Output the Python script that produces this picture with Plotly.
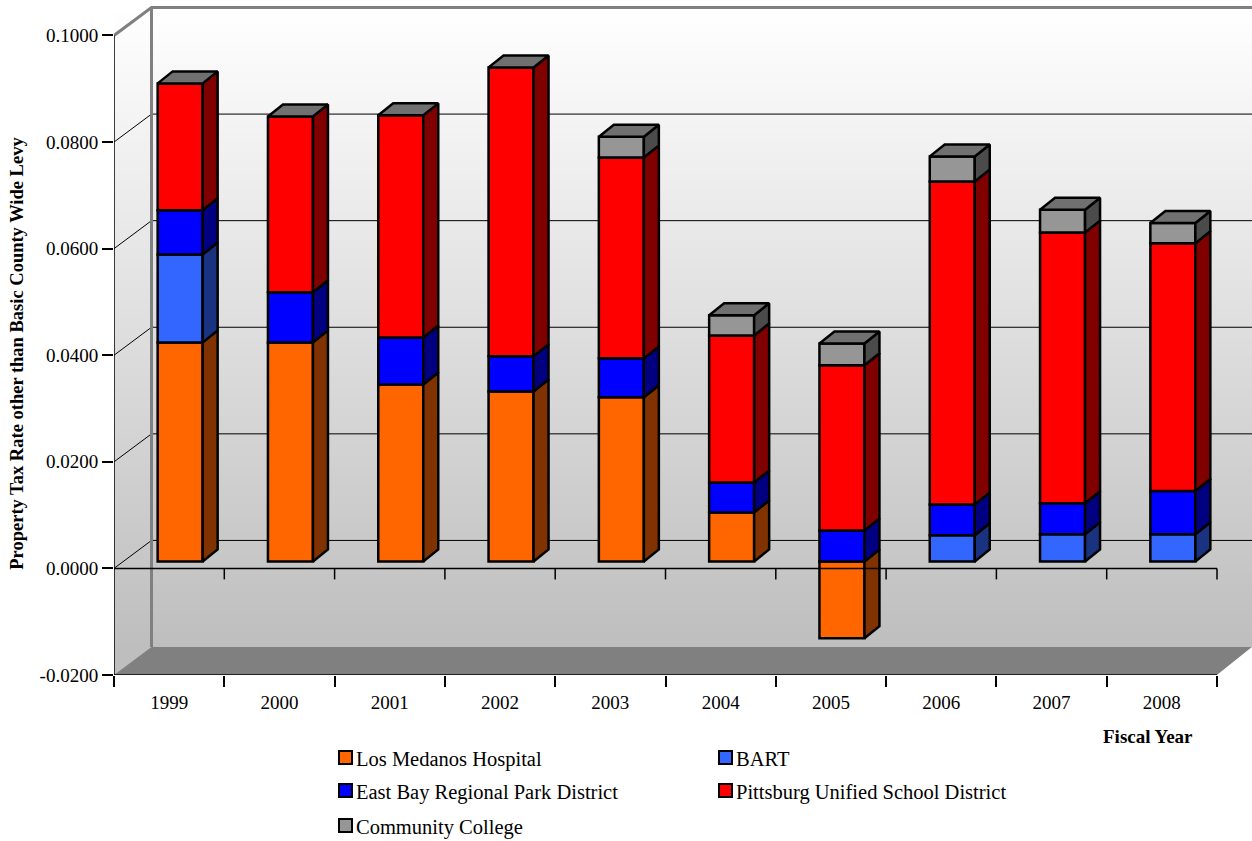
# Stacked property tax rate bars with a fake 3D wall / floor look
import plotly.graph_objects as go

# Data
YEARS = ["1999", "2000", "2001", "2002", "2003", "2004", "2005", "2006", "2007", "2008"]
LOS_MEDANOS = [0.0411, 0.0411, 0.0332, 0.0319, 0.0308, 0.0092, -0.0144, None, None, None]
BART = [0.0165, None, None, None, None, None, None, 0.0049, 0.0051, 0.0051]
EAST_BAY = [0.0083, 0.0094, 0.0088, 0.0066, 0.0073, 0.0056, 0.0058, 0.0058, 0.0058, 0.0081]
PITTSBURG = [0.0238, 0.0330, 0.0417, 0.0542, 0.0377, 0.0276, 0.0310, 0.0606, 0.0508, 0.0465]
COLLEGE = [None, None, None, None, 0.0039, 0.0038, 0.0041, 0.0047, 0.0043, 0.0038]
Y_TICKS = [-0.02, 0.0, 0.02, 0.04, 0.06, 0.08, 0.10]
Y_LABELS = ["-0.0200", "0.0000", "0.0200", "0.0400", "0.0600", "0.0800", "0.1000"]

SERIES = [
    ("Los Medanos Hospital", LOS_MEDANOS, "#FF6600", "#803300"),
    ("BART", BART, "#3366FF", "#1A3380"),
    ("East Bay Regional Park District", EAST_BAY, "#0000FF", "#000080"),
    ("Pittsburg Unified School District", PITTSBURG, "#FF0000", "#800000"),
    ("Community College", COLLEGE, "#969696", "#4B4B4B"),
]

FONT = "Liberation Serif"
WIDTH, HEIGHT = 1252, 841

# pixel geometry of the plot area
LEFT, BOTTOM = 114, 675.5
CAT_PX = 110.3      # pixels per year
VAL_PX = 5333.3     # pixels per unit of tax rate
X_PX = 1 / CAT_PX
Y_PX = 1 / VAL_PX
X_MAX = (WIDTH - LEFT) * X_PX
Y_MIN = -0.02
Y_MAX = Y_MIN + BOTTOM * Y_PX
N = len(YEARS)

# depth offsets
WALL_DX, WALL_DY = 37.5 * X_PX, 28 * Y_PX    # back wall
BAR_DX, BAR_DY = 11 * X_PX, 7 * Y_PX         # front face of the bars
SIDE_DX, SIDE_DY = 15 * X_PX, 12 * Y_PX      # bar depth
BAR_W = 45 * X_PX
EDGE = 2.5


def paper_x(px):
    return (px - LEFT) / (WIDTH - LEFT)


def paper_y(px):
    return 1 - px / BOTTOM


def line_trace(xs, ys, color="black", width=1.5, xaxis="x", yaxis="y"):
    return go.Scatter(x=xs, y=ys, xaxis=xaxis, yaxis=yaxis, mode="lines", line=dict(color=color, width=width),
                      cliponaxis=False, showlegend=False, hoverinfo="skip")


def poly_trace(xs, ys, fill, xaxis="x", yaxis="y", outline=None):
    return go.Scatter(x=xs, y=ys, xaxis=xaxis, yaxis=yaxis, mode="lines", fill="toself", fillcolor=fill,
                      line=dict(color=outline or fill, width=EDGE if outline else 0),
                      cliponaxis=False, showlegend=False, hoverinfo="skip")


fig = go.Figure()

# wall gradient
fig.add_trace(go.Heatmap(
    x=[0, X_MAX], y=[Y_MIN + WALL_DY, 0.10 + WALL_DY], z=[[1, 1], [0, 0]],
    zmin=0, zmax=1, zsmooth="best", showscale=False, hoverinfo="skip",
    colorscale=[[0, "#FFFFFF"], [1, "#BEBEBE"]],
))

# floor, and the white corner to the right of it
floor_x = [0, WALL_DX, X_MAX, N]
floor_y = [Y_MIN, Y_MIN + WALL_DY, Y_MIN + WALL_DY, Y_MIN]
fig.add_trace(poly_trace(floor_x, floor_y, "#808080"))
fig.add_trace(poly_trace([N, X_MAX, X_MAX], [Y_MIN, Y_MIN + WALL_DY, Y_MIN], "#FFFFFF"))

# grid lines on the side and back wall
grid_x, grid_y = [], []
for t in Y_TICKS:
    if -0.02 < t < 0.10:
        grid_x += [0, WALL_DX, X_MAX, None]
        grid_y += [t, t + WALL_DY, t + WALL_DY, None]
fig.add_trace(line_trace(grid_x, grid_y, width=1))

# gray edge of the walls
fig.add_trace(line_trace(
    [0, WALL_DX, X_MAX, None, WALL_DX, WALL_DX],
    [0.10, 0.10 + WALL_DY, 0.10 + WALL_DY, None, 0.10 + WALL_DY, Y_MIN + WALL_DY],
    color="#808080", width=3))

# front axis lines
fig.add_trace(line_trace([0, 0, None, 0, N], [Y_MIN, 0.10, None, Y_MIN, Y_MIN]))

# bar fronts
for name, vals, color, dark in SERIES:
    fig.add_trace(go.Bar(
        x=[i + 0.5 for i in range(N)], y=vals, width=BAR_W, name=name,
        xaxis="x2", yaxis="y2", showlegend=False,
        marker=dict(color=color, line=dict(color="black", width=EDGE)),
    ))

# bar sides and tops, stacked the same way the bars are
tops = [0.0] * N
lows = [0.0] * N
top_x, top_y = [], []
for name, vals, color, dark in SERIES:
    side_x, side_y = [], []
    for i, v in enumerate(vals):
        if v is None:
            continue
        if v < 0:
            y0, y1 = lows[i] + v, lows[i]
            lows[i] = y0
        else:
            y0, y1 = tops[i], tops[i] + v
            tops[i] = y1
        xr = i + 0.5 + BAR_W / 2
        side_x += [xr, xr + SIDE_DX, xr + SIDE_DX, xr, xr, None]
        side_y += [y0, y0 + SIDE_DY, y1 + SIDE_DY, y1, y0, None]
    fig.add_trace(poly_trace(side_x, side_y, dark, "x2", "y2", outline="black"))

for i, y1 in enumerate(tops):
    xl, xr = i + 0.5 - BAR_W / 2, i + 0.5 + BAR_W / 2
    top_x += [xl, xl + SIDE_DX, xr + SIDE_DX, xr, xl, None]
    top_y += [y1, y1 + SIDE_DY, y1 + SIDE_DY, y1, y1, None]
fig.add_trace(poly_trace(top_x, top_y, "#707070", "x2", "y2", outline="black"))

# zero line runs in front of the bars, so it goes on the bar axes, shifted back to the front plane
zero_x = [-BAR_DX, N - BAR_DX, None]
zero_y = [-BAR_DY, -BAR_DY, None]
for i in range(1, N + 1):
    zero_x += [i - BAR_DX, i - BAR_DX, None]
    zero_y += [-BAR_DY, -BAR_DY - 11 * Y_PX, None]
fig.add_trace(line_trace(zero_x, zero_y, xaxis="x2", yaxis="y2"))

fig.update_layout(
    width=WIDTH, height=HEIGHT,
    margin=dict(l=LEFT, r=0, t=0, b=HEIGHT - BOTTOM, pad=0),
    paper_bgcolor="white", plot_bgcolor="white",
    barmode="relative", showlegend=False,
    font=dict(family=FONT, size=19, color="black"),
    xaxis=dict(range=[0, X_MAX], showgrid=False, zeroline=False,
               tickmode="array", tickvals=[i + 0.5 for i in range(N)], ticktext=YEARS,
               ticks="outside", ticklen=10, tickcolor="rgba(0,0,0,0)",
               minor=dict(tickmode="array", tickvals=list(range(N + 1)), ticks="outside",
                          ticklen=11, tickwidth=1.5, tickcolor="black", showgrid=False)),
    yaxis=dict(range=[Y_MIN, Y_MAX], showgrid=False, zeroline=False,
               tickmode="array", tickvals=Y_TICKS, ticktext=Y_LABELS,
               ticks="outside", ticklen=11, tickwidth=1.5, tickcolor="black"),
    # bars sit a little behind the front axes
    xaxis2=dict(range=[-BAR_DX, X_MAX - BAR_DX], overlaying="x", visible=False),
    yaxis2=dict(range=[Y_MIN - BAR_DY, Y_MAX - BAR_DY], overlaying="y", visible=False),
)

# axis titles
fig.add_annotation(text="<b>Property Tax Rate other than Basic County Wide Levy</b>",
                   xref="paper", yref="paper", x=paper_x(17), y=paper_y(354), textangle=-90,
                   showarrow=False, font=dict(size=18.5), xanchor="center", yanchor="middle")
fig.add_annotation(text="<b>Fiscal Year</b>", xref="paper", yref="paper", x=paper_x(1195), y=paper_y(737),
                   showarrow=False, font=dict(size=19), xanchor="right", yanchor="middle")

# legend drawn by hand, the row spacing can't be set on the real one
LEGEND_SPOTS = [(339, 759), (719, 759), (339, 792), (719, 792), (339, 827)]
for (name, vals, color, dark), (lx, ly) in zip(SERIES, LEGEND_SPOTS):
    fig.add_shape(type="rect", xref="paper", yref="paper",
                  x0=paper_x(lx), x1=paper_x(lx + 13), y0=paper_y(ly - 7.5), y1=paper_y(ly + 5.5),
                  fillcolor=color, line=dict(color="black", width=2))
    fig.add_annotation(text=name, xref="paper", yref="paper", x=paper_x(lx + 15), y=paper_y(ly + 1),
                       showarrow=False, font=dict(size=20.5), xanchor="left", yanchor="middle")

fig.write_html("out.html", config=dict(displayModeBar=False),
               post_script="document.body.style.margin='0';document.body.style.overflow='hidden';")
